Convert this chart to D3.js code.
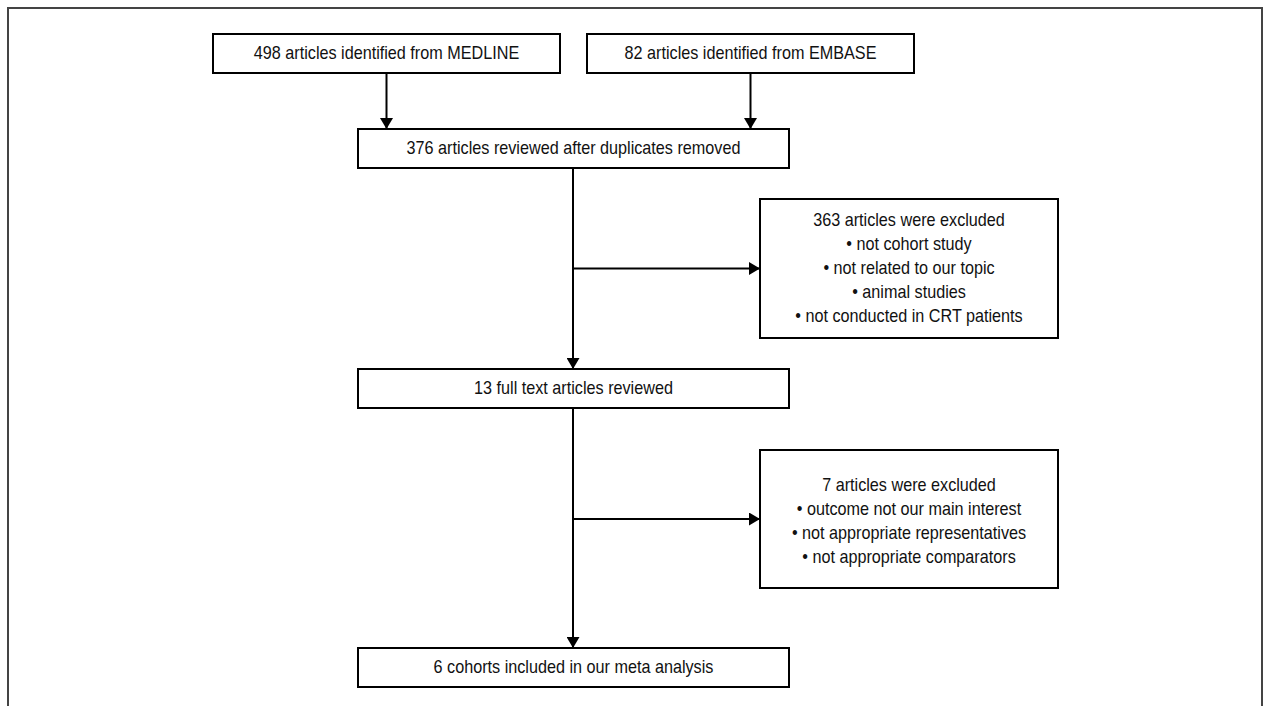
<!DOCTYPE html>
<html>
<head>
<meta charset="utf-8">
<script src="https://cdn.jsdelivr.net/npm/d3@7"></script>
<style>
  html, body { margin: 0; padding: 0; background: #fff; }
  svg { display: block; }
  text { font-family: "Liberation Sans Narrow", "Arial Narrow", "Liberation Sans", Arial, sans-serif; fill: #111; }
</style>
</head>
<body>
<svg id="chart" width="1264" height="706"></svg>
<script>
// ---- data ----
const sourceLabels = ["498 articles identified from MEDLINE", "82 articles identified from EMBASE"];
const mainLabels = ["376 articles reviewed after duplicates removed", "13 full text articles reviewed", "6 cohorts included in our meta analysis"];
const exclusionTitles = ["363 articles were excluded", "7 articles were excluded"];
const exclusionReasons = [
  ["not cohort study", "not related to our topic", "animal studies", "not conducted in CRT patients"],
  ["outcome not our main interest", "not appropriate representatives", "not appropriate comparators"]
];

// ---- layout ----
const svg = d3.select("#chart");
const W = 1264, H = 706;

// outer frame (open bottom)
svg.append("path")
  .attr("d", `M8,${H} L8,8 L1262,8 L1262,${H}`)
  .attr("fill", "none").attr("stroke", "#444").attr("stroke-width", 2);

svg.append("defs").append("marker")
  .attr("id", "arr").attr("viewBox", "0 0 11 13").attr("refX", 11).attr("refY", 6.5)
  .attr("markerWidth", 11).attr("markerHeight", 13).attr("markerUnits", "userSpaceOnUse")
  .attr("orient", "auto")
  .append("path").attr("d", "M0,0 L11,6.5 L0,13 Z").attr("fill", "#000");

const fs = 18, sx = 0.9;
function box(x0, y0, x1, y1) {
  svg.append("rect").attr("x", x0).attr("y", y0).attr("width", x1 - x0).attr("height", y1 - y0)
    .attr("fill", "#fff").attr("stroke", "#000").attr("stroke-width", 2);
}
function label(lines, cx, cy, gap) {
  const n = lines.length;
  lines.forEach((t, i) => {
    svg.append("text")
      .attr("transform", `translate(${cx},${cy + (i - (n - 1) / 2) * gap}) scale(${sx},1)`)
      .attr("text-anchor", "middle").attr("dominant-baseline", "central")
      .attr("font-size", fs).text(t);
  });
}
function arrow(pts) {
  svg.append("path").attr("d", d3.line()(pts))
    .attr("fill", "none").attr("stroke", "#000").attr("stroke-width", 2)
    .attr("marker-end", "url(#arr)");
}

const srcBoxes = [[213, 34, 560, 73], [587, 34, 914, 73]];
const mainBoxes = [[358, 129, 789, 168], [358, 369, 789, 408], [358, 648, 789, 687]];
const exBoxes = [[760, 199, 1058, 338], [760, 450, 1058, 588]];
const spineX = 573;

// arrows from sources
srcBoxes.forEach(b => {
  const cx = (b[0] + b[2]) / 2;
  arrow([[cx, b[3]], [cx, mainBoxes[0][1]]]);
});
// spine arrows
for (let i = 0; i < mainBoxes.length - 1; i++) {
  arrow([[spineX, mainBoxes[i][3]], [spineX, mainBoxes[i + 1][1]]]);
  const eb = exBoxes[i];
  const ey = (eb[1] + eb[3]) / 2;
  arrow([[spineX, ey], [eb[0], ey]]);
}

srcBoxes.forEach((b, i) => { box(...b); label([sourceLabels[i]], (b[0] + b[2]) / 2, (b[1] + b[3]) / 2, 24); });
mainBoxes.forEach((b, i) => { box(...b); label([mainLabels[i]], (b[0] + b[2]) / 2, (b[1] + b[3]) / 2, 24); });
exBoxes.forEach((b, i) => {
  box(...b);
  const lines = [exclusionTitles[i]].concat(exclusionReasons[i].map(r => "\u2022 " + r));
  label(lines, (b[0] + b[2]) / 2, (b[1] + b[3]) / 2 + (i === 1 ? 2 : 0), 24);
});
</script>
</body>
</html>
